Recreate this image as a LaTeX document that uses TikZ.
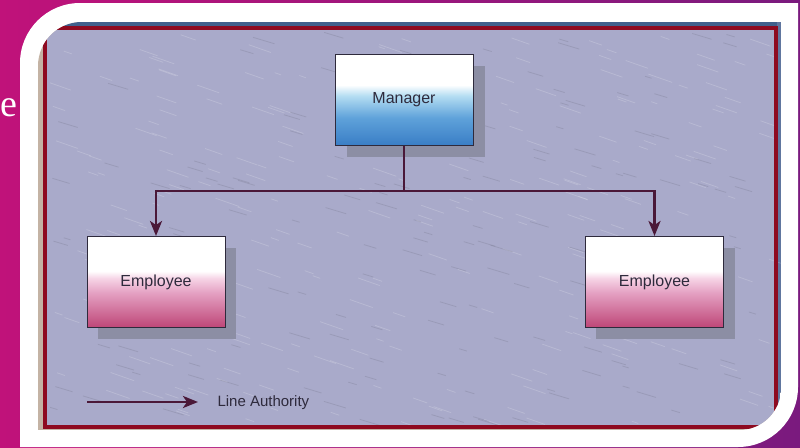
\documentclass[tikz,border=0pt]{standalone}
\usepackage{fontspec}
\usetikzlibrary{arrows.meta}
\newfontfamily\diagsans{Liberation Sans}
\newfontfamily\slideserif{Liberation Serif}
\definecolor{bgleft}{HTML}{C0127A}
\definecolor{bgright}{HTML}{7A1A7E}
\definecolor{paper}{HTML}{A9AACA}
\definecolor{frame}{HTML}{8E0A20}
\definecolor{beige}{HTML}{C4B3A4}
\definecolor{topblue}{HTML}{40608C}
\definecolor{conncol}{HTML}{4A1838}
\definecolor{textcol}{HTML}{2E2A3C}
\definecolor{shadowcol}{HTML}{8C8EA4}
\definecolor{empbot}{HTML}{BE4677}
\definecolor{empmid}{HTML}{E4A0C2}
\definecolor{emplight}{HTML}{F6D4E6}
\definecolor{mgrbot}{HTML}{3A7EC6}
\definecolor{mgrmid}{HTML}{5FA2DA}
\definecolor{mgrlight}{HTML}{B4DDF2}
\pgfdeclareverticalshading{empshade}{100bp}{color(0bp)=(empbot); color(25bp)=(empbot); color(44bp)=(empmid); color(52bp)=(emplight); color(56bp)=(white); color(100bp)=(white)}
\pgfdeclareverticalshading{mgrshade}{100bp}{color(0bp)=(mgrbot); color(25bp)=(mgrbot); color(40bp)=(mgrmid); color(52bp)=(mgrlight); color(58bp)=(white); color(100bp)=(white)}
\tikzset{
  boxbase/.style={draw=textcol, line width=1pt, minimum width=138pt, minimum height=91pt,
    inner sep=0pt, font=\diagsans\fontsize{16}{19}\selectfont, text=textcol},
  empbox/.style={boxbase, shade, shading=empshade},
  mgrbox/.style={boxbase, shade, shading=mgrshade},
  conn/.style={draw=conncol, line width=2.8pt},
  tip/.style={-{Stealth[length=15pt,width=12pt,inset=4pt]}},
  legendtext/.style={font=\diagsans\fontsize{15}{18}\selectfont, text=textcol, anchor=west}
}
\begin{document}
\begin{tikzpicture}[x=1pt,y=-1pt]
\useasboundingbox (0,0) rectangle (800,447);
% slide background
\shade[left color=bgleft, right color=bgright] (0,0) rectangle (800,447);
% white frame
\fill[white] (20,447) -- (20,63) arc[start angle=180,end angle=90,radius=60pt]
  -- (798,3) -- (798,387) arc[start angle=0,end angle=-90,radius=60pt] -- cycle;
% cut-off slide text
\node[anchor=base east, inner sep=0pt, text=white, font=\slideserif\fontsize{38}{44}\selectfont] (eletter) at (17.5,116) {e};
% picture area
\begin{scope}
\clip (38,430) -- (38,66) arc[start angle=180,end angle=90,radius=44pt]
  -- (781,22) -- (781,388) arc[start angle=0,end angle=-90,radius=42pt] -- cycle;
\fill[beige] (38,22) rectangle (781,430);
\fill[topblue] (38,22) rectangle (781,26);
\fill[topblue!70!paper] (777,22) rectangle (781,430);
\fill[paper] (45,29) rectangle (775,426);
% faint paper texture
\pgfmathsetseed{7}
\foreach \i in {1,...,260}{
  \pgfmathsetmacro{\px}{50+720*rnd}
  \pgfmathsetmacro{\py}{32+390*rnd}
  \pgfmathsetmacro{\pl}{6+18*rnd}
  \draw[white, opacity=0.18, line width=0.8pt] (\px,\py) -- ++(\pl,0.35*\pl);
}
\foreach \i in {1,...,160}{
  \pgfmathsetmacro{\px}{50+720*rnd}
  \pgfmathsetmacro{\py}{32+390*rnd}
  \pgfmathsetmacro{\pl}{6+16*rnd}
  \draw[black!60!paper, opacity=0.15, line width=0.8pt] (\px,\py) -- ++(\pl,0.3*\pl);
}
\draw[frame, line width=4pt] (45,28) rectangle (776,427);
\end{scope}
% shadows
\fill[shadowcol] (347,66) rectangle (485,157);
\fill[shadowcol] (98,248) rectangle (236,339);
\fill[shadowcol] (596,248) rectangle (735,339);
% boxes
\node[mgrbox] (mgr) at (404,99.5) {Manager};
\node[empbox] (e1) at (156,282) {Employee};
\node[empbox] (e2) at (654.5,282) {Employee};
% connectors
\draw[conn] (mgr.south) -- ++(0,45.5) coordinate (bus);
\draw[conn, tip] (bus) -| (e1.north);
\draw[conn, tip] (bus) -| (e2.north);
% legend
\coordinate (lgA) at (87,402);
\coordinate (lgB) at (198,402);
\draw[conn, tip] (lgA) -- (lgB);
\node[legendtext] (lgtext) at (214,403) {Line Authority};
\end{tikzpicture}
\end{document}
